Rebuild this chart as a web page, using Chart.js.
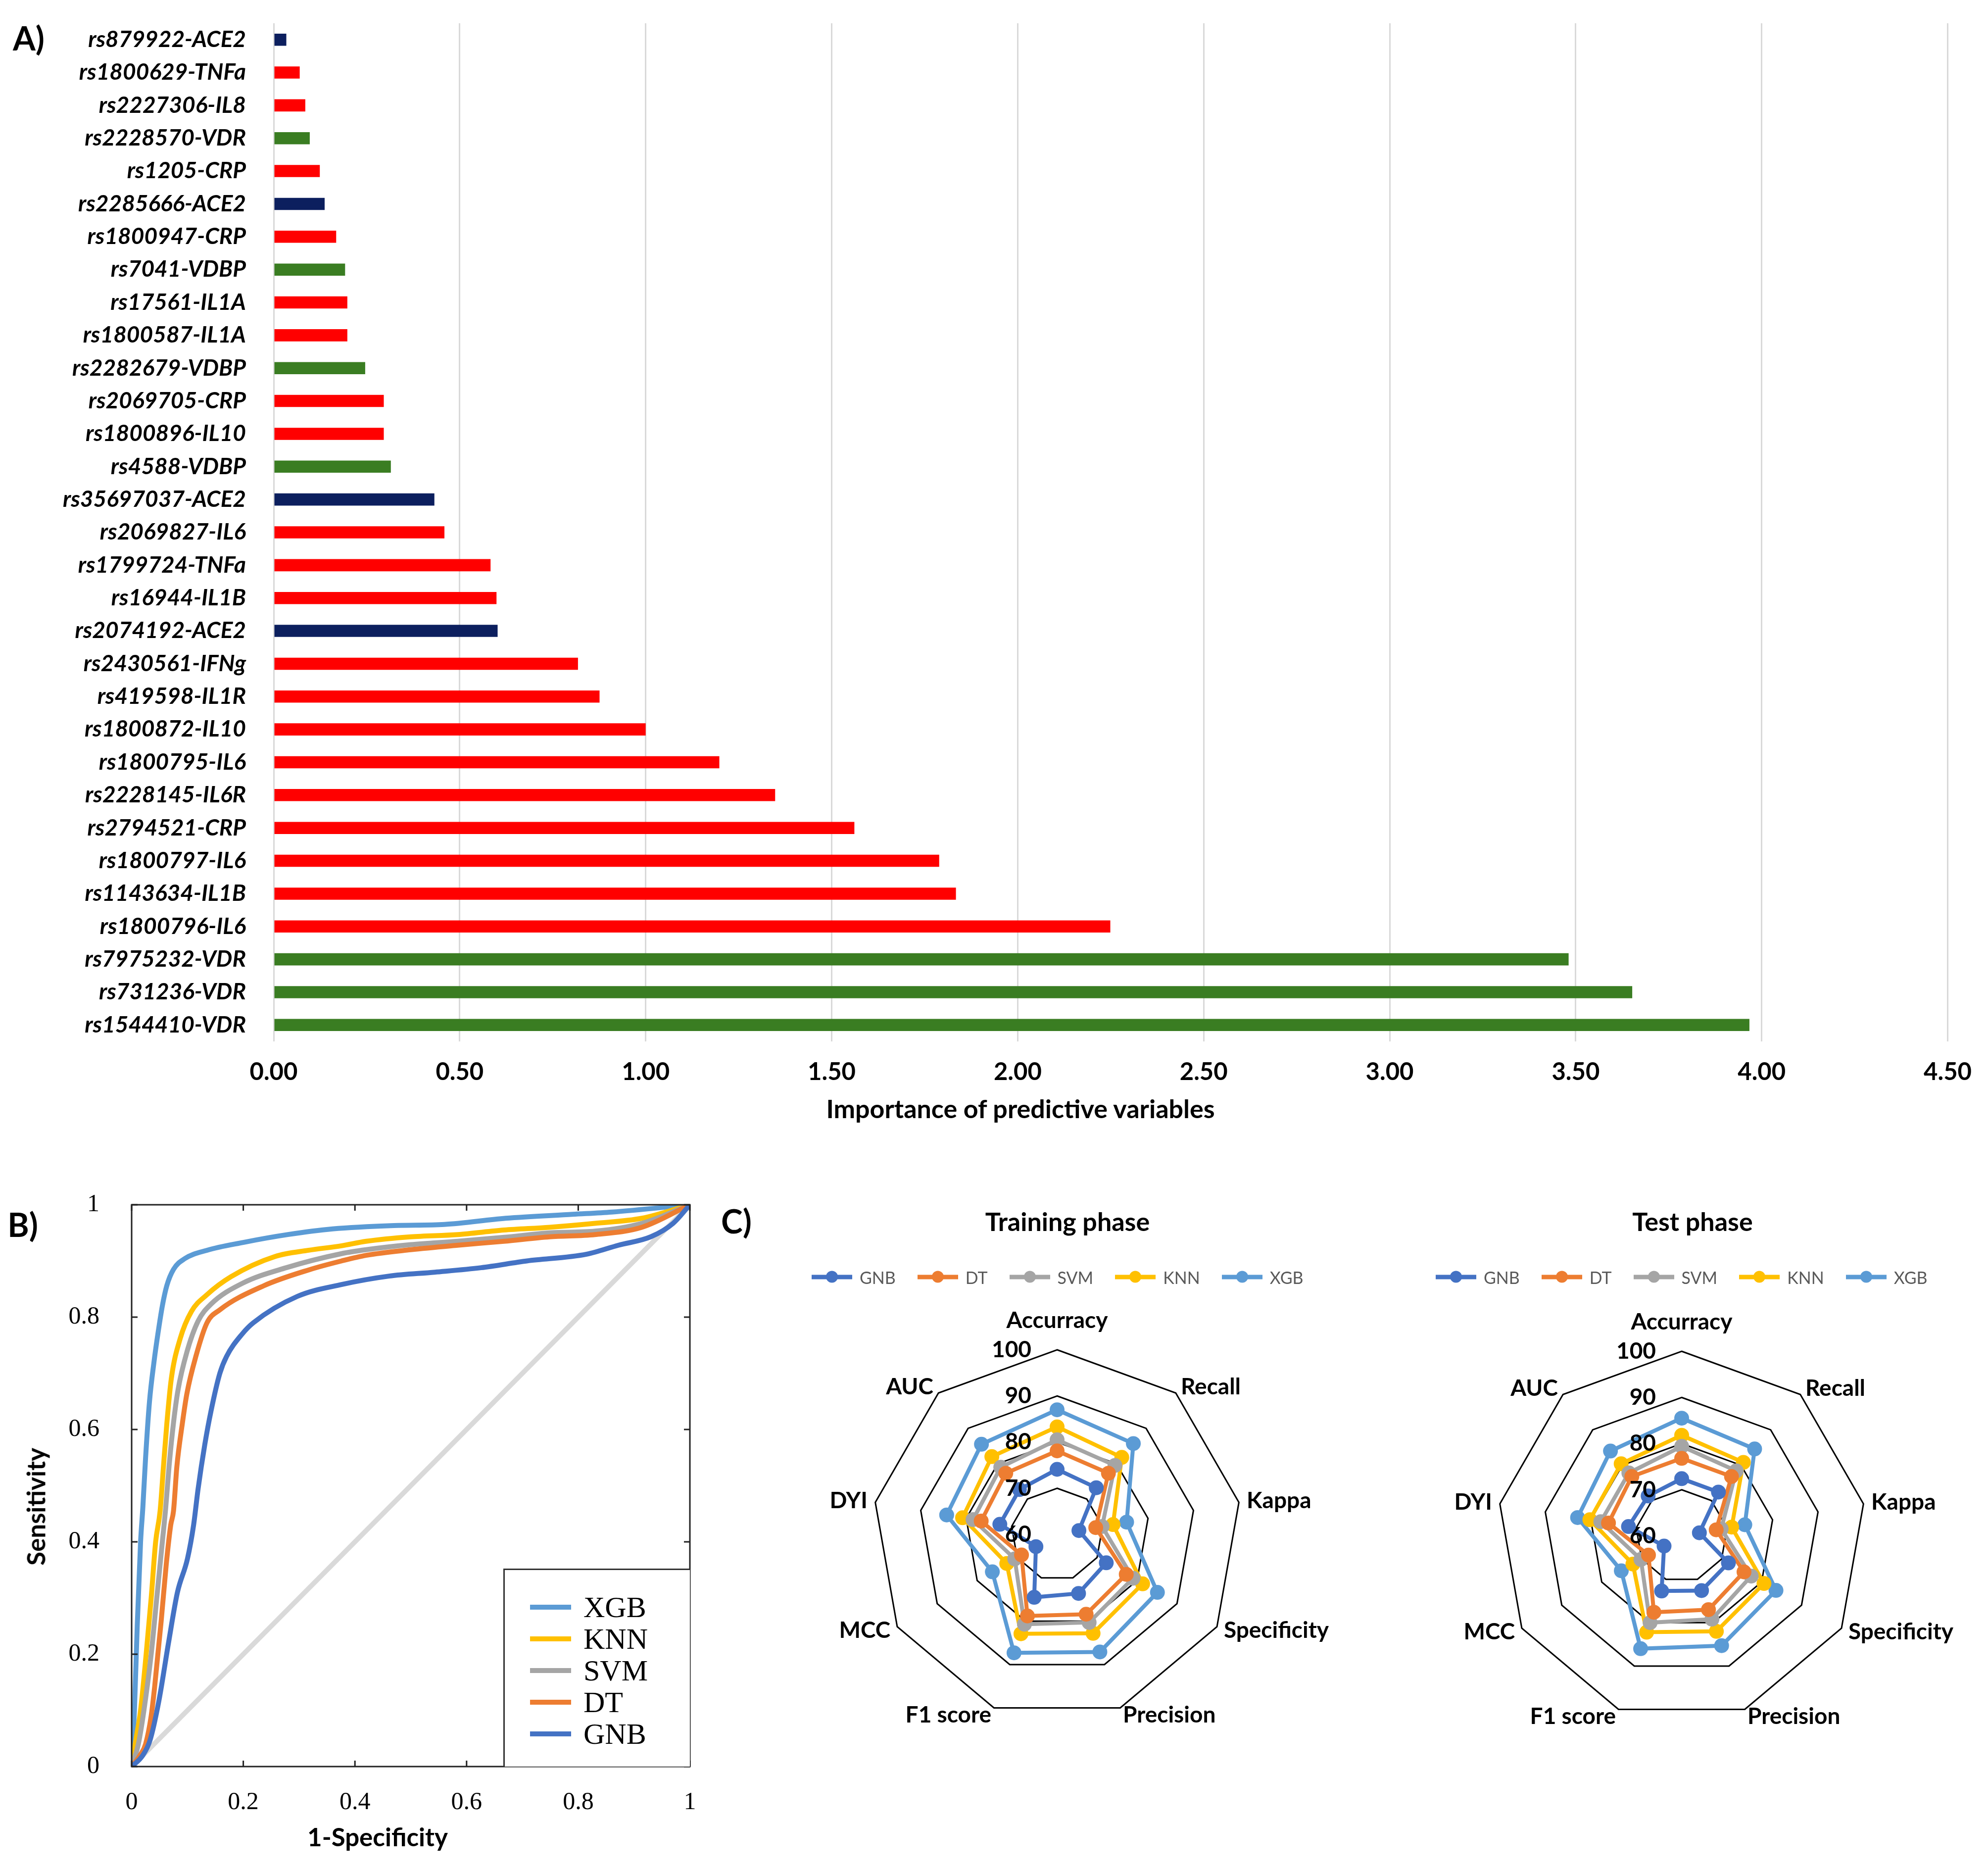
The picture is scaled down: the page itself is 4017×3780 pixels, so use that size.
<!DOCTYPE html>
<html>
<head>
<meta charset="utf-8">
<title>SNP importance, ROC and radar charts</title>
<script src="https://cdn.jsdelivr.net/npm/chart.js@4.4.1/dist/chart.umd.min.js"></script>
<style>
  body { margin: 0; background: #fff; }
  #page { position: relative; width: 4017px; height: 3780px; overflow: hidden; font-family: Lato, "Open Sans", sans-serif; }
  canvas { position: absolute; }
  .txt { position: absolute; transform: translate(-50%, -50%); white-space: nowrap; line-height: 1; color: #000; font-weight: 700; }
  .rleg { position: absolute; display: flex; align-items: center; transform: translateY(-50%); font-size: 34px; color: #595959; }
  .rleg .item { display: flex; align-items: center; margin-right: 44px; }
  .rleg .sw { position: relative; width: 82px; height: 9px; margin-right: 15px; }
  .rleg .sw i { position: absolute; left: 29px; top: -8px; width: 24px; height: 24px; border-radius: 50%; }
  #rocLegend { position: absolute; left: 1017px; top: 3169px; width: 377px; height: 400px; box-sizing: border-box;
               border: 3px solid #333; border-right: none; border-bottom: none; padding-top: 43px; background: #fff;
               font-family: "Liberation Serif", "DejaVu Serif", serif; font-size: 60px; }
  #rocLegend .row { display: flex; align-items: center; height: 64px; padding-left: 51px; }
  #rocLegend .sw { width: 83px; height: 10px; margin-right: 25px; }
</style>
</head>
<body>
<div id="page">
  <canvas id="barChart" width="4017" height="2300" style="left:0;top:0"></canvas>
  <canvas id="rocChart" width="1480" height="1400" style="left:0;top:2380px"></canvas>
  <canvas id="trainRadar" width="1120" height="1180" style="left:1650px;top:2600px"></canvas>
  <canvas id="testRadar" width="1107" height="1180" style="left:2910px;top:2600px"></canvas>

  <div class="txt" style="left:58px;top:77px;font-size:66px">A)</div>
  <div class="txt" style="left:2062px;top:2239px;font-size:52px">Importance of predictive variables</div>

  <div class="txt" style="left:46px;top:2474px;font-size:66px">B)</div>
  <div class="txt" style="left:72px;top:3044px;font-size:51px;transform:translate(-50%,-50%) rotate(-90deg)">Sensitivity</div>
  <div class="txt" style="left:763px;top:3710px;font-size:51px">1-Specificity</div>
  <div id="rocLegend"></div>

  <div class="txt" style="left:1488px;top:2467px;font-size:66px">C)</div>
  <div class="txt" style="left:2157px;top:2467px;font-size:52px">Training phase</div>
  <div class="txt" style="left:3420px;top:2467px;font-size:52px">Test phase</div>
  <div class="rleg" id="trainLegend" style="left:1640px;top:2580px"></div>
  <div class="rleg" id="testLegend" style="left:2901px;top:2580px"></div>
</div>

<script>
// ---- Panel A: importance of predictive variables ----
const snpLabels = [
  'rs879922-ACE2', 'rs1800629-TNFa', 'rs2227306-IL8', 'rs2228570-VDR', 'rs1205-CRP',
  'rs2285666-ACE2', 'rs1800947-CRP', 'rs7041-VDBP', 'rs17561-IL1A', 'rs1800587-IL1A',
  'rs2282679-VDBP', 'rs2069705-CRP', 'rs1800896-IL10', 'rs4588-VDBP', 'rs35697037-ACE2',
  'rs2069827-IL6', 'rs1799724-TNFa', 'rs16944-IL1B', 'rs2074192-ACE2', 'rs2430561-IFNg',
  'rs419598-IL1R', 'rs1800872-IL10', 'rs1800795-IL6', 'rs2228145-IL6R', 'rs2794521-CRP',
  'rs1800797-IL6', 'rs1143634-IL1B', 'rs1800796-IL6', 'rs7975232-VDR', 'rs731236-VDR',
  'rs1544410-VDR'
];
const importance = [
  0.034, 0.070, 0.085, 0.097, 0.124,
  0.137, 0.168, 0.192, 0.198, 0.198,
  0.246, 0.296, 0.296, 0.315, 0.432,
  0.459, 0.583, 0.599, 0.602, 0.818,
  0.876, 1.000, 1.198, 1.348, 1.561,
  1.789, 1.834, 2.249, 3.481, 3.652,
  3.967
];
const importanceTicks = [0, 0.5, 1, 1.5, 2, 2.5, 3, 3.5, 4, 4.5];

// ---- Panel B: ROC curves, [1-specificity, sensitivity] ----
const rocXGB = [[0,0],[0.005,0.1],[0.01,0.25],[0.016,0.4],[0.02,0.46],[0.025,0.55],[0.032,0.65],[0.04,0.72],
  [0.047,0.77],[0.055,0.82],[0.063,0.856],[0.075,0.885],[0.095,0.904],[0.135,0.919],[0.2,0.933],[0.28,0.947],
  [0.36,0.957],[0.47,0.963],[0.56,0.965],[0.67,0.976],[0.79,0.983],[0.86,0.987],[1,1]];
const rocKNN = [[0,0],[0.008,0.05],[0.016,0.1],[0.026,0.2],[0.035,0.3],[0.043,0.4],[0.051,0.455],[0.057,0.534],
  [0.063,0.61],[0.071,0.69],[0.087,0.762],[0.107,0.81],[0.135,0.84],[0.178,0.872],[0.257,0.908],[0.317,0.919],
  [0.376,0.927],[0.42,0.935],[0.5,0.943],[0.584,0.947],[0.667,0.955],[0.749,0.96],[0.83,0.967],[0.914,0.976],[1,1]];
const rocSVM = [[0,0],[0.012,0.04],[0.022,0.1],[0.035,0.2],[0.045,0.3],[0.055,0.4],[0.061,0.46],[0.067,0.534],
  [0.075,0.612],[0.083,0.67],[0.099,0.738],[0.119,0.793],[0.142,0.823],[0.198,0.86],[0.277,0.888],[0.376,0.913],
  [0.42,0.92],[0.5,0.929],[0.584,0.935],[0.667,0.942],[0.749,0.95],[0.83,0.953],[0.914,0.967],[1,1]];
const rocDT = [[0,0],[0.015,0.02],[0.025,0.04],[0.035,0.09],[0.041,0.14],[0.053,0.26],[0.062,0.36],[0.07,0.43],
  [0.075,0.455],[0.081,0.534],[0.091,0.612],[0.099,0.664],[0.115,0.73],[0.135,0.79],[0.158,0.813],[0.237,0.856],
  [0.317,0.884],[0.376,0.9],[0.42,0.91],[0.5,0.92],[0.584,0.928],[0.667,0.935],[0.749,0.943],[0.83,0.947],[0.914,0.96],[1,1]];
const rocGNB = [[0,0],[0.02,0.02],[0.033,0.047],[0.049,0.118],[0.066,0.22],[0.082,0.31],[0.1,0.37],[0.111,0.43],
  [0.119,0.494],[0.131,0.573],[0.142,0.632],[0.158,0.7],[0.17,0.73],[0.198,0.77],[0.218,0.79],[0.297,0.837],
  [0.376,0.858],[0.461,0.873],[0.543,0.88],[0.626,0.888],[0.708,0.9],[0.815,0.912],[0.872,0.928],[0.93,0.943],
  [0.97,0.967],[1,1]];
const rocChance = [[0,0],[1,1]];

// ---- Panel C: radar scores ----
const radarAxes = ['Accurracy', 'Recall', 'Kappa', 'Specificity', 'Precision', 'F1 score', 'MCC', 'DYI', 'AUC'];
const radarTicks = [60, 70, 80, 90, 100];
const trainGNB = [74.1, 73.2, 64.8, 72.3, 73.6, 74.5, 65.3, 72.6, 72.7];
const trainDT  = [78.1, 77.3, 68.5, 77.3, 78.4, 78.8, 68.9, 76.7, 77.3];
const trainSVM = [80.5, 79.5, 69.9, 79.0, 80.3, 80.7, 70.6, 78.5, 79.0];
const trainKNN = [83.3, 81.8, 72.3, 81.4, 82.8, 82.9, 72.6, 80.8, 82.0];
const trainXGB = [87.0, 85.7, 75.3, 85.1, 87.1, 87.3, 76.2, 84.3, 85.5];
const testGNB  = [72.4, 72.4, 63.9, 71.7, 72.6, 72.7, 64.4, 71.7, 71.3];
const testDT   = [76.8, 76.8, 67.6, 75.6, 77.0, 77.6, 68.3, 76.1, 76.8];
const testSVM  = [79.4, 78.4, 68.7, 77.4, 79.2, 80.0, 70.2, 77.8, 77.8];
const testKNN  = [81.8, 80.8, 71.0, 80.6, 82.0, 82.2, 72.2, 80.2, 80.4];
const testXGB  = [85.5, 84.6, 73.9, 83.6, 85.3, 86.0, 75.1, 82.9, 84.0];

const models = ['GNB', 'DT', 'SVM', 'KNN', 'XGB'];
const modelColors = { GNB: '#4472C4', DT: '#ED7D31', SVM: '#A5A5A5', KNN: '#FFC000', XGB: '#5B9BD5' };

Chart.defaults.animation = false;
Chart.defaults.plugins.legend.display = false;
Chart.defaults.plugins.tooltip.enabled = false;

// colour of a bar follows the gene after the dash
function barColor(label) {
  const gene = label.split('-')[1];
  if (gene === 'ACE2') return '#0C1F5E';
  if (gene === 'VDR' || gene === 'VDBP') return '#3A7D22';
  return '#FF0000';
}

// keep a vertical axis from pushing the plot down for its end labels
function fixVertical(width) {
  return s => { s.width = width; s.paddingTop = 0; s.paddingBottom = 0; };
}

new Chart(document.getElementById('barChart'), {
  type: 'bar',
  data: {
    labels: snpLabels,
    datasets: [{
      data: importance,
      backgroundColor: snpLabels.map(barColor),
      barPercentage: 0.37,
      categoryPercentage: 1
    }]
  },
  options: {
    indexAxis: 'y',
    responsive: false,
    devicePixelRatio: 1,
    layout: { padding: { top: 47, right: 75, left: 0, bottom: 0 } },
    scales: {
      x: {
        min: importanceTicks[0],
        max: importanceTicks[importanceTicks.length - 1],
        afterBuildTicks: s => { s.ticks = importanceTicks.map(v => ({ value: v })); },
        ticks: { callback: v => Number(v).toFixed(2), color: '#000', padding: 33,
                 font: { family: 'Lato', size: 49, weight: 'bold' } },
        grid: { color: '#d9d9d9', lineWidth: 3, drawTicks: false },
        border: { display: false },
        afterFit: s => { s.height = 196; }
      },
      y: {
        ticks: { color: '#000', padding: 48, font: { family: 'Lato', size: 46, weight: 'bold', style: 'italic' } },
        grid: { display: false },
        border: { display: false },
        afterFit: fixVertical(553)
      }
    }
  }
});

// box round the ROC plot with inward tick marks on every side
const rocFrame = {
  id: 'rocFrame',
  afterDraw(chart) {
    const { ctx, chartArea: a, scales } = chart;
    ctx.save();
    ctx.strokeStyle = '#222';
    ctx.lineWidth = 3;
    ctx.strokeRect(a.left, a.top, a.right - a.left, a.bottom - a.top);
    const len = 12;
    ctx.beginPath();
    scales.x.ticks.forEach(t => {
      const x = scales.x.getPixelForValue(t.value);
      ctx.moveTo(x, a.bottom); ctx.lineTo(x, a.bottom - len);
      ctx.moveTo(x, a.top); ctx.lineTo(x, a.top + len);
    });
    scales.y.ticks.forEach(t => {
      const y = scales.y.getPixelForValue(t.value);
      ctx.moveTo(a.left, y); ctx.lineTo(a.left + len, y);
      ctx.moveTo(a.right, y); ctx.lineTo(a.right - len, y);
    });
    ctx.stroke();
    ctx.restore();
  }
};

function rocSet(points, color, order) {
  return {
    data: points.map(p => ({ x: p[0], y: p[1] })),
    showLine: true,
    borderColor: color,
    borderWidth: 10,
    pointRadius: 0,
    cubicInterpolationMode: 'monotone',
    order: order
  };
}

const unitTick = v => (v === 0 || v === 1) ? String(v) : Number(v).toFixed(1);
const serifTicks = { color: '#000', stepSize: 0.2, callback: unitTick,
                     font: { family: 'Liberation Serif', size: 50 } };

new Chart(document.getElementById('rocChart'), {
  type: 'scatter',
  data: {
    datasets: [
      rocSet(rocChance, '#D9D9D9', 9),
      rocSet(rocGNB, modelColors.GNB, 1),
      rocSet(rocDT, modelColors.DT, 2),
      rocSet(rocSVM, modelColors.SVM, 3),
      rocSet(rocKNN, modelColors.KNN, 4),
      rocSet(rocXGB, modelColors.XGB, 5)
    ]
  },
  options: {
    responsive: false,
    devicePixelRatio: 1,
    layout: { padding: { top: 54, right: 86, left: 0, bottom: 0 } },
    scales: {
      x: { min: 0, max: 1, ticks: Object.assign({ padding: 35 }, serifTicks),
           grid: { display: false }, border: { display: false },
           afterFit: s => { s.height = 211; s.paddingLeft = 0; s.paddingRight = 0; } },
      y: { min: 0, max: 1, ticks: Object.assign({ padding: 57 }, serifTicks),
           grid: { display: false }, border: { display: false },
           afterFit: fixVertical(266) }
    }
  },
  plugins: [rocFrame]
});

// ROC legend, listed from best to worst
const rocLegend = document.getElementById('rocLegend');
models.slice().reverse().forEach(m => {
  const row = document.createElement('div');
  row.className = 'row';
  row.innerHTML = `<span class="sw" style="background:${modelColors[m]}"></span><span>${m}</span>`;
  rocLegend.appendChild(row);
});

// ring values and axis names drawn the way the spreadsheet placed them
const radarText = {
  id: 'radarText',
  afterDatasetsDraw(chart) {
    const s = chart.scales.r, ctx = chart.ctx;
    ctx.save();
    ctx.fillStyle = '#000';
    ctx.font = 'bold 46px Lato';
    ctx.textAlign = 'right';
    ctx.textBaseline = 'middle';
    radarTicks.forEach(v => {
      const p = s.getPointPositionForValue(0, v);
      ctx.fillText(String(v), p.x - 52, p.y);
    });
    chart.data.labels.forEach((lab, i) => {
      const p = s.getPointPosition(i, s.drawingArea + (i === 0 ? 36 : 16));
      const dx = p.x - s.xCenter;
      ctx.textAlign = Math.abs(dx) < 1 ? 'center' : (dx > 0 ? 'left' : 'right');
      ctx.textBaseline = i === 0 ? 'bottom' : 'middle';
      ctx.fillText(lab, p.x, p.y);
    });
    ctx.restore();
  }
};

function radarChart(id, series, padding) {
  new Chart(document.getElementById(id), {
    type: 'radar',
    data: {
      labels: radarAxes,
      datasets: models.map((m, i) => ({
        label: m,
        data: series[i],
        borderColor: modelColors[m],
        backgroundColor: modelColors[m],
        pointBackgroundColor: modelColors[m],
        pointBorderColor: modelColors[m],
        borderWidth: 8,
        pointRadius: 11,
        fill: false
      }))
    },
    options: {
      responsive: false,
      devicePixelRatio: 1,
      layout: { padding: padding },
      scales: {
        r: {
          min: radarTicks[0],
          max: radarTicks[radarTicks.length - 1],
          ticks: { stepSize: 10, display: false },
          pointLabels: { display: false },
          angleLines: { display: false },
          grid: { color: '#000', lineWidth: 3 }
        }
      }
    },
    plugins: [radarText]
  });
}

radarChart('trainRadar', [trainGNB, trainDT, trainSVM, trainKNN, trainXGB],
           { left: 113, top: 127, right: 261, bottom: 307 });
radarChart('testRadar', [testGNB, testDT, testSVM, testKNN, testXGB],
           { left: 115, top: 130, right: 246, bottom: 304 });

// legend strips above each radar
function radarLegend(id) {
  const box = document.getElementById(id);
  models.forEach(m => {
    const item = document.createElement('div');
    item.className = 'item';
    item.innerHTML = `<span class="sw" style="background:${modelColors[m]}"><i style="background:${modelColors[m]}"></i></span><span>${m}</span>`;
    box.appendChild(item);
  });
}
radarLegend('trainLegend');
radarLegend('testLegend');
</script>
</body>
</html>
